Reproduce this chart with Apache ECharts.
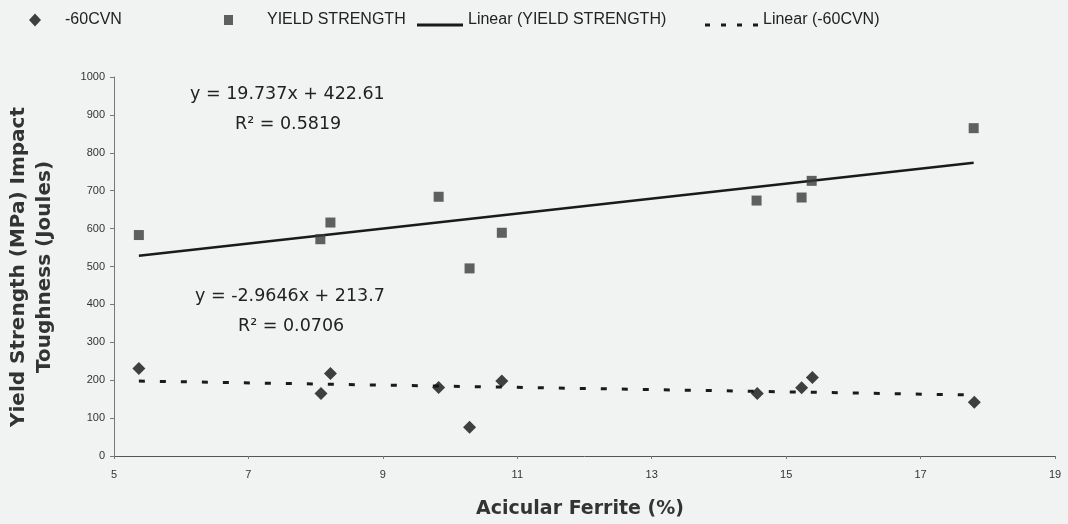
<!DOCTYPE html>
<html>
<head>
<meta charset="utf-8">
<script src="https://cdn.jsdelivr.net/npm/echarts@6/dist/echarts.min.js"></script>
<style>
html,body{margin:0;padding:0;background:#f1f3f3;}
#c{width:1068px;height:524px;}
</style>
</head>
<body>
<div id="c"></div>
<script>
// Acicular ferrite (%) for each weld
var ferrite = [5.37, 8.07, 8.22, 9.83, 10.29, 10.77, 14.56, 15.23, 15.38, 17.79];
// Yield strength (MPa)
var yieldStrength = [583, 572, 616, 684, 495, 589, 674, 682, 726, 865];
// -60 CVN impact toughness (Joules)
var cvnFerrite = [5.37, 8.08, 8.22, 9.83, 10.29, 10.77, 14.57, 15.23, 15.39, 17.80];
var cvn = [231, 165, 218, 181, 76, 198, 165, 180, 207, 142];
// Trend line coefficients as printed on the chart
var ysSlope = 19.737, ysIntercept = 422.61, ysR2 = '0.5819';
var cvnSlope = -2.9646, cvnIntercept = 213.7, cvnR2 = '0.0706';
// axis ticks
var xTicks = [5, 7, 9, 11, 13, 15, 17, 19];
var yTicks = [0, 100, 200, 300, 400, 500, 600, 700, 800, 900, 1000];

function pairs(xs, ys){ return xs.map(function(x,i){ return [x, ys[i]]; }); }
function trend(xs, m, b){
  var lo = Math.min.apply(null, xs), hi = Math.max.apply(null, xs);
  return [[lo, m*lo + b], [hi, m*hi + b]];
}

var SANS = 'Liberation Sans, Arial, sans-serif';
var DJ = 'DejaVu Sans, sans-serif';
var chart = echarts.init(document.getElementById('c'));
function lt(pad){ return {fontFamily: SANS, fontSize: 16, color: '#222', padding: pad}; }
chart.setOption({
  backgroundColor: '#f1f3f3',
  animation: false,
  textStyle: {fontFamily: SANS},
  legend: [
    {data: [{name: '-60CVN', icon: 'diamond'}], left: 24, top: 7, itemWidth: 12, itemHeight: 13,
      textStyle: lt([0, 0, 0, 19])},
    {data: [{name: 'YIELD STRENGTH', icon: 'rect'}], left: 219, top: 7, itemWidth: 9, itemHeight: 10,
      textStyle: lt([0, 0, 0, 29])},
    {data: [{name: 'Linear (YIELD STRENGTH)', icon: 'path://M0,0L1,0L1,0Z M0,10h46v3h-46z'}],
      left: 412, top: 7, itemWidth: 46, itemHeight: 13,
      textStyle: lt([0, 0, 0, 0])},
    {data: [{name: 'Linear (-60CVN)', icon: 'path://M0,0L1,0L1,0Z M0,10h5v3h-5z M16,10h5v3h-5z M32,10h5v3h-5z M48,10h5v3h-5z'}],
      left: 700, top: 7, itemWidth: 53, itemHeight: 13,
      textStyle: lt([0, 0, 0, 0])}
  ],
  grid: {left: 114, right: 13, top: 77, bottom: 68},
  xAxis: {
    type: 'value', min: xTicks[0], max: xTicks[xTicks.length-1], interval: 2,
    axisLine: {show: true, lineStyle: {color: '#555', width: 1}},
    axisTick: {show: true, length: 3, lineStyle: {color: '#777'}},
    splitLine: {show: false},
    axisLabel: {fontSize: 11, color: '#333', margin: 13}
  },
  yAxis: {
    type: 'value', min: yTicks[0], max: yTicks[yTicks.length-1], interval: 100,
    axisLine: {show: true, lineStyle: {color: '#777', width: 1}},
    axisTick: {show: true, length: 4, lineStyle: {color: '#777'}},
    splitLine: {show: false},
    axisLabel: {fontSize: 11, color: '#333', margin: 9, formatter: function(v){ return String(v); }}
  },
  graphic: [
    {type: 'text', left: 190, top: 85, style: {text: 'y = 19.737x + 422.61', fontSize: 17.5, fill: '#222', fontFamily: DJ}},
    {type: 'text', left: 235, top: 115, style: {text: 'R² = ' + ysR2, fontSize: 17.5, fill: '#222', fontFamily: DJ}},
    {type: 'text', left: 195, top: 287, style: {text: 'y = -2.9646x + 213.7', fontSize: 17.5, fill: '#222', fontFamily: DJ}},
    {type: 'text', left: 238, top: 317, style: {text: 'R² = ' + cvnR2, fontSize: 17.5, fill: '#222', fontFamily: DJ}},
    {type: 'text', x: 32, y: 267, rotation: Math.PI/2,
      style: {text: 'Yield Strength (MPa) Impact\nToughness (Joules)', fontSize: 20, fontWeight: 'bold', fill: '#333', lineHeight: 26, align: 'center', verticalAlign: 'middle', fontFamily: DJ}},
    {type: 'text', x: 580, y: 509,
      style: {text: 'Acicular Ferrite (%)', fontSize: 19, fontWeight: 'bold', fill: '#333', align: 'center', verticalAlign: 'middle', fontFamily: DJ}}
  ],
  series: [
    {name: '-60CVN', type: 'scatter', symbol: 'diamond', symbolSize: 13,
      itemStyle: {color: '#111'}, data: pairs(cvnFerrite, cvn), z: 5},
    {name: 'YIELD STRENGTH', type: 'scatter', symbol: 'rect', symbolSize: 10,
      itemStyle: {color: '#3a3a3a'}, data: pairs(ferrite, yieldStrength), z: 5},
    {name: 'Linear (YIELD STRENGTH)', type: 'line', symbol: 'none', data: trend(ferrite, ysSlope, ysIntercept),
      lineStyle: {color: '#1a1a1a', width: 2.5}, itemStyle: {color: '#1a1a1a'}},
    {name: 'Linear (-60CVN)', type: 'line', symbol: 'none', data: trend(cvnFerrite, cvnSlope, cvnIntercept),
      lineStyle: {color: '#1a1a1a', width: 3, type: [6, 15]}, itemStyle: {color: '#1a1a1a'}}
  ]
});
</script>
</body>
</html>
